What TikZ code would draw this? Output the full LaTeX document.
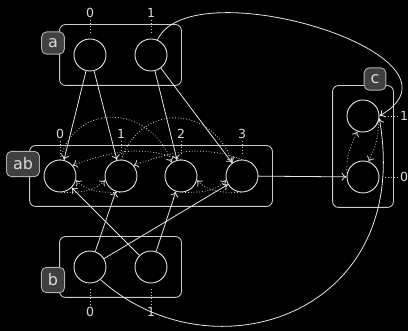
\documentclass[tikz,border=0pt]{standalone}
\usepackage{fontspec}
\setmainfont{DejaVu Sans}
\usetikzlibrary{arrows.meta,fit}
\definecolor{fg}{HTML}{E6E6E6}
\definecolor{boxc}{HTML}{CCCCCC}
\definecolor{dotc}{HTML}{C4C4C4}
\definecolor{tagf}{HTML}{404040}
\definecolor{tagb}{HTML}{B0B0B0}
\definecolor{txt}{HTML}{DADADA}
\begin{document}
\begin{tikzpicture}[x=1pt,y=1pt,
  state/.style={circle, draw=fg, line width=0.9pt, minimum size=32pt, inner sep=0pt},
  grp/.style={draw=boxc, rounded corners=6pt, line width=0.9pt, inner sep=14pt},
  tag/.style={draw=tagb, fill=tagf, rounded corners=5pt, text=txt, font=\fontsize{16}{16}\selectfont, inner sep=6.5pt, line width=0.9pt},
  lab/.style={text=txt, font=\fontsize{12.5}{12.5}\selectfont, inner sep=1.5pt},
  pinl/.style={dotted, draw=dotc, line width=0.9pt, shorten <=6pt},
  arr/.style={-{To[length=5pt,width=8pt]}, draw=fg, line width=0.8pt},
  darr/.style={arr, dotted, draw=dotc, line width=0.9pt},
]
\fill[black] (0,0) rectangle (408,-331);
\useasboundingbox (0,0) rectangle (408,-331);

% states
\node[state] (a0) at (90,-55) {};
\node[state] (a1) at (151,-55) {};
\node[state] (ab0) at (60,-176) {};
\node[state] (ab1) at (121,-176) {};
\node[state] (ab2) at (181,-176) {};
\node[state] (ab3) at (242,-176) {};
\node[state] (b0) at (90,-267) {};
\node[state] (b1) at (151,-267) {};
\node[state] (c1) at (363,-116) {};
\node[state] (c0) at (363,-177) {};

% groups
\node[grp, fit=(a0)(a1)] (A) {};
\node[grp, fit=(ab0)(ab3)] (AB) {};
\node[grp, fit=(b0)(b1)] (B) {};
\node[grp, fit=(c1)(c0)] (C) {};

% tags
\node[tag] (ta) at (53,-43) {a};
\node[tag] (tab) at (23,-164) {ab};
\node[tag] (tb) at (53,-280) {b};
\node[tag] (tc) at (375,-79) {c};

% labels
\node[lab] (la0) at (90,-13) {0};
\node[lab] (la1) at (151,-13) {1};
\node[lab] (lab0) at (60,-134) {0};
\node[lab] (lab1) at (121,-134) {1};
\node[lab] (lab2) at (181,-134) {2};
\node[lab] (lab3) at (242,-134) {3};
\node[lab] (lb0) at (90,-312) {0};
\node[lab] (lb1) at (151,-312) {1};
\node[lab] (lc1) at (404,-116) {1};
\node[lab] (lc0) at (404,-177) {0};
\foreach \s/\l in {a0/la0,a1/la1,ab0/lab0,ab1/lab1,ab2/lab2,ab3/lab3,b0/lb0,b1/lb1,c1/lc1,c0/lc0}
  \draw[pinl] (\s) -- (\l);

% solid edges
\draw[arr] (a0) -- (ab0);
\draw[arr] (a0) -- (ab1);
\draw[arr] (a1) -- (ab2);
\draw[arr] (a1) -- (ab3);
\draw[arr] (b1) -- (ab0);
\draw[arr] (b0) -- (ab1);
\draw[arr] (b1) -- (ab2);
\draw[arr] (b0) -- (ab3);
\draw[arr] (ab3) -- (c0);
\draw[arr] (a1.67) to[out=65,in=30,out distance=80pt,in distance=120pt] (c1.east);
\draw[arr] (b0.-50) to[out=-42,in=-80,out distance=150pt,in distance=200pt] (c1.-8);

% dotted edges
\draw[darr] (ab0.north) to[out=75,in=110,looseness=1.4] (ab2.125);
\draw[darr] (ab1.north) to[out=70,in=110,looseness=1.4] (ab3.125);
\draw[darr] (ab2.north) to[out=160,in=20] (ab0.40);
\draw[darr] (ab3.north) to[out=160,in=20] (ab1.40);
\draw[darr] (ab0.-85) to[out=0,in=-135] (ab1.-165);
\draw[darr] (ab1.-95) to[out=180,in=-45] (ab0.-15);
\draw[darr] (ab2.-85) to[out=0,in=-135] (ab3.-165);
\draw[darr] (ab3.-95) to[out=180,in=-45] (ab2.-15);
\draw[darr] (c0.165) to[out=95,in=-115] (c1.-110);
\draw[darr] (c1.-20) to[out=-90,in=65] (c0.70);
\end{tikzpicture}
\end{document}
